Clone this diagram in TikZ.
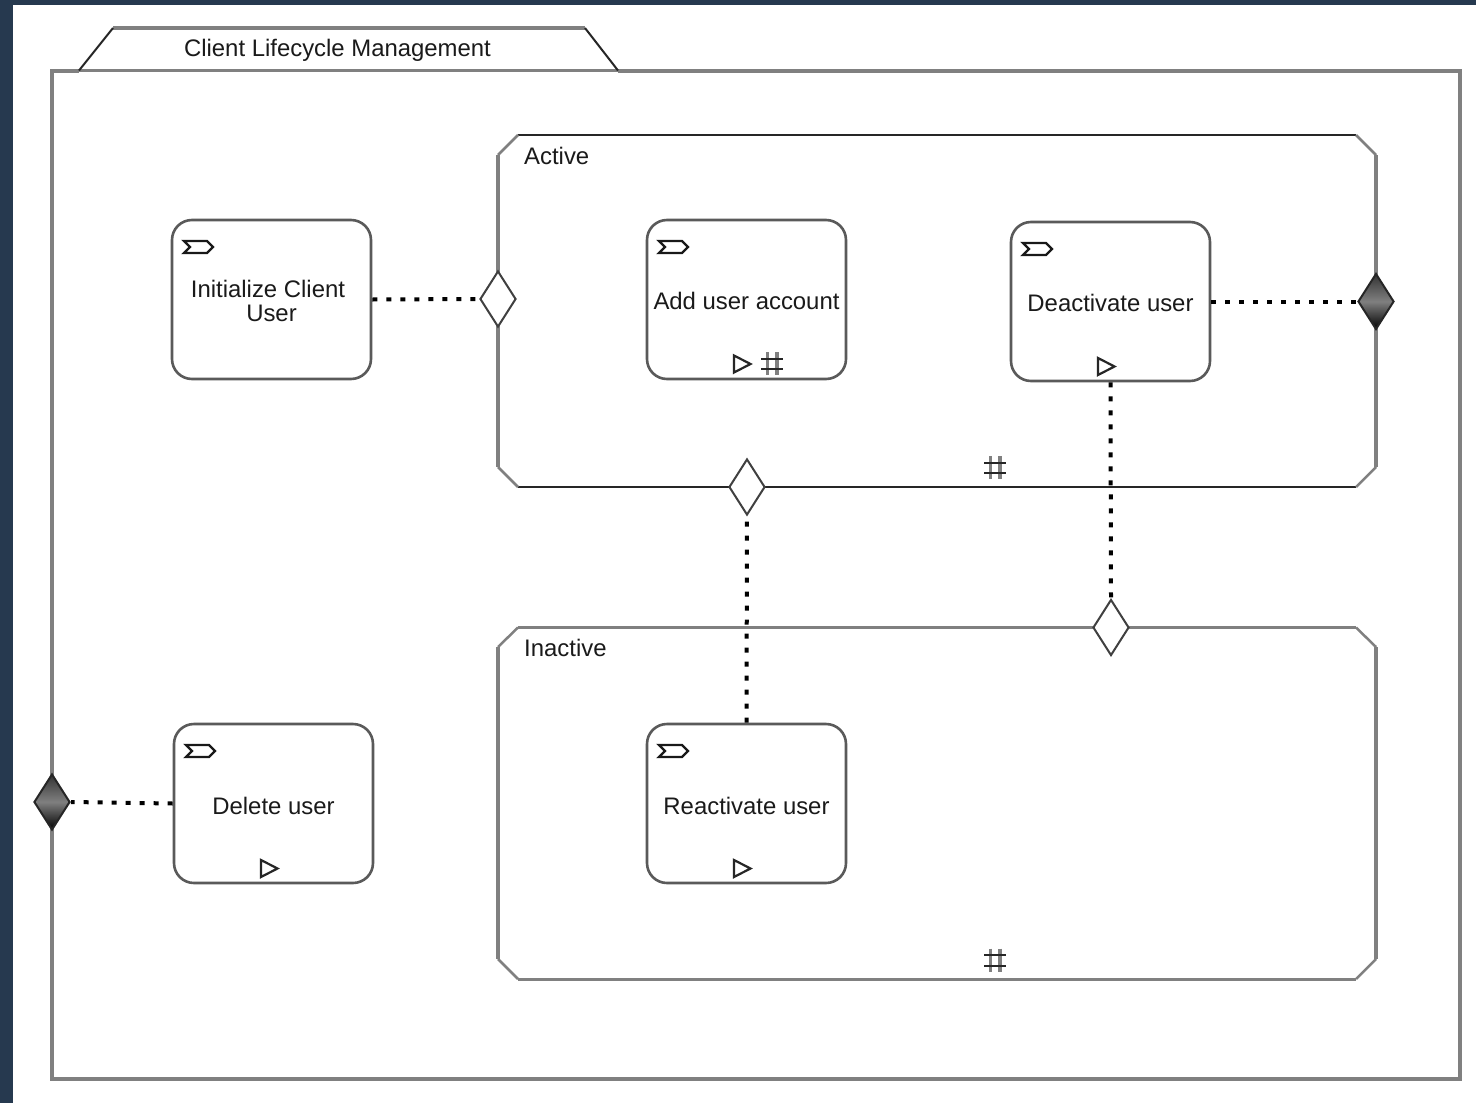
\documentclass[tikz,border=0pt]{standalone}
\usepackage{fontspec}
\setmainfont{Liberation Sans}
\usetikzlibrary{shapes.geometric}
\definecolor{navy}{HTML}{26394F}
\definecolor{edgegray}{HTML}{808080}
\definecolor{txt}{HTML}{1A1A1A}
\tikzset{
  x=1pt,y=-1pt,
  grayline/.style={draw=edgegray,line width=4pt,line join=miter},
  grayfine/.style={draw=edgegray,line width=2.5pt},
  darkline/.style={draw=black!85,line width=2pt},
  taskbox/.style={draw=edgegray!70!black,line width=2.6pt,rounded corners=20pt,fill=white,minimum width=199pt,minimum height=159pt,inner sep=0pt},
  lbl/.style={text=txt,inner sep=0pt,font=\fontsize{23.9}{24}\selectfont},
  gatewaywhite/.style={diamond,draw=black!75,line width=2pt,fill=white,minimum width=36pt,minimum height=56pt,inner sep=0pt,aspect=0.64},
  gatewaydark/.style={diamond,draw=black!85,line width=2pt,top color=black!80,bottom color=black!100,middle color=black!50,minimum width=36pt,minimum height=56pt,inner sep=0pt,aspect=0.64},
  assoc/.style={draw=black,line width=4pt,dash pattern=on 5pt off 9pt},
  iconline/.style={draw=black!90,line width=2.4pt,line join=miter},
  playline/.style={draw=black!85,line width=2.2pt,line join=miter},
  hashv/.style={draw=black!50,line width=3.4pt},
  hashh/.style={draw=black!85,line width=2pt},
  pics/tasktag/.style={code={
    \draw[iconline] (1,1) -- (24,1) -- (30,7) -- (24,13) -- (1,13) -- (7,7) -- cycle;
  }},
  pics/playmark/.style={code={
    \draw[playline] (0,0) -- (16.5,8.5) -- (0,17) -- cycle;
  }},
  pics/hashmark/.style={code={
    \draw[hashv] (6.5,0) -- (6.5,23);
    \draw[hashv] (16,0) -- (16,23);
    \draw[hashh] (0,6.5) -- (22,6.5);
    \draw[hashh] (0,17) -- (22,17);
  }},
}
\begin{document}
\begin{tikzpicture}
\useasboundingbox (0,0) rectangle (1476,1103);
% page
\fill[navy] (0,0) rectangle (1476,1103);
\fill[white] (13,5) rectangle (1476,1103);
% outer frame + tab
\coordinate (fa) at (52,70.5);
\coordinate (fb) at (1460,70.5);
\coordinate (fc) at (1460,1079);
\coordinate (fd) at (52,1079);
\coordinate (ta) at (79,70.5);
\coordinate (tb) at (113,28);
\coordinate (tc) at (585,28);
\coordinate (td) at (618,70.5);
\draw[grayline] (td) -- (fb) -- (fc) -- (fd) -- (fa) -- (ta);
\draw[grayfine] (ta) -- (td);
\draw[grayline,line width=3.4pt] (tb) -- (tc);
\draw[darkline] (ta) -- (tb);
\draw[darkline] (tc) -- (td);
\node[lbl] (title) at (337.5,50) {Client Lifecycle Management};
% Active
\coordinate (a1) at (518,135);
\coordinate (a2) at (1356,135);
\coordinate (a3) at (1376,155);
\coordinate (a4) at (1376,467);
\coordinate (a5) at (1356,487);
\coordinate (a6) at (518,487);
\coordinate (a7) at (498,467);
\coordinate (a8) at (498,155);
\draw[darkline] (a1) -- (a2);
\draw[darkline] (a5) -- (a6);
\draw[grayfine] (a2) -- (a3) (a4) -- (a5) (a6) -- (a7) (a8) -- (a1);
\draw[grayline] (a3) -- (a4) (a7) -- (a8);
\node[lbl,anchor=west] (active) at (524,156) {Active};
\pic at (984,456) {hashmark};
% Inactive
\coordinate (i1) at (518,627.5);
\coordinate (i2) at (1356,627.5);
\coordinate (i3) at (1376,647);
\coordinate (i4) at (1376,959);
\coordinate (i5) at (1356,979);
\coordinate (i6) at (518,979);
\coordinate (i7) at (498,959);
\coordinate (i8) at (498,647);
\draw[grayfine,line width=3pt] (i1) -- (i2) (i5) -- (i6);
\draw[grayfine] (i2) -- (i3) (i4) -- (i5) (i6) -- (i7) (i8) -- (i1);
\draw[grayline] (i3) -- (i4) (i7) -- (i8);
\node[lbl,anchor=west] (inactive) at (524,647.5) {Inactive};
\pic at (984,948.5) {hashmark};
% tasks
\node[taskbox] (init) at (271.5,299.5) {};
\node[taskbox] (add) at (746.5,299.5) {};
\node[taskbox] (deact) at (1110.5,301.5) {};
\node[taskbox] (del) at (273.5,803.5) {};
\node[taskbox] (react) at (746.5,803.5) {};
\node[lbl,align=center] (initlbl) at (271.5,300.5) {Initialize Client\rule{7pt}{0pt}\\User};
\node[lbl] (addlbl) at (746.5,301) {Add user account};
\node[lbl] (deactlbl) at (1110.5,303) {Deactivate user};
\node[lbl] (dellbl) at (273.5,806) {Delete user};
\node[lbl] (reactlbl) at (746.5,806) {Reactivate user};
% task markers
\pic at (183,240) {tasktag};
\pic at (658,240) {tasktag};
\pic at (1022,242) {tasktag};
\pic at (185,744) {tasktag};
\pic at (658,744) {tasktag};
\pic at (734,355.5) {playmark};
\pic at (761,352) {hashmark};
\pic at (1098,358) {playmark};
\pic at (261,860) {playmark};
\pic at (734,860) {playmark};
% gateways
\node[gatewaywhite] (g1) at (498,299) {};
\node[gatewaywhite] (g2) at (747,487) {};
\node[gatewaywhite] (g3) at (1111,627.5) {};
\node[gatewaydark] (g4) at (1376,301.5) {};
\node[gatewaydark] (g5) at (52,802) {};
% connectors
\draw[assoc] (init.east) -- (g1.west);
\draw[assoc] (deact.east) -- (g4.west);
\draw[assoc] (del.west) -- (g5.east);
\draw[assoc] (react.north) -- (g2.south);
\draw[assoc] (deact.south) -- (g3.north);
\end{tikzpicture}
\end{document}
